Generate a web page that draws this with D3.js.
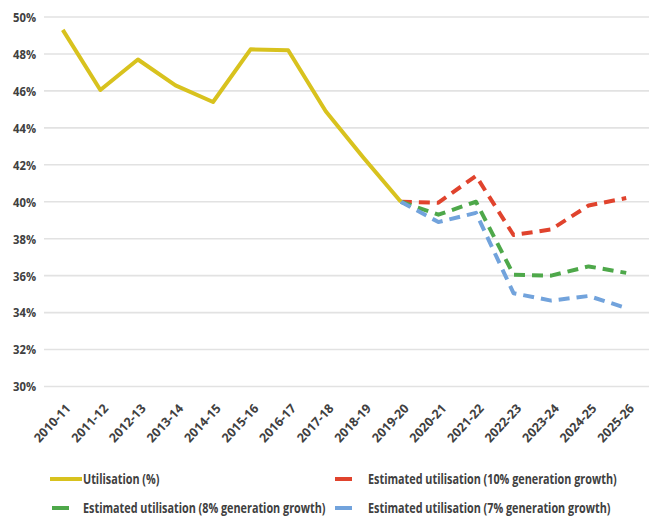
<!DOCTYPE html>
<html>
<head>
<meta charset="utf-8">
<script src="https://cdn.jsdelivr.net/npm/d3@7"></script>
<style>
  html, body { margin: 0; padding: 0; background: #fff; }
  svg text { font-family: "Open Sans", sans-serif; font-weight: bold; fill: #404040; }
</style>
</head>
<body>
<svg id="chart" width="649" height="523"></svg>
<script>
// Financial years on the x axis
const years = ["2010-11","2011-12","2012-13","2013-14","2014-15","2015-16","2016-17","2017-18",
               "2018-19","2019-20","2020-21","2021-22","2022-23","2023-24","2024-25","2025-26"];

// Actual utilisation (%), 2010-11 to 2019-20
const utilisation = [49.3, 46.05, 47.7, 46.3, 45.4, 48.25, 48.2, 44.9, 42.4, 40.0];

// Projections, 2019-20 to 2025-26
const projYears = ["2019-20","2020-21","2021-22","2022-23","2023-24","2024-25","2025-26"];
const est10 = [40.0, 39.95, 41.4, 38.2, 38.5, 39.8, 40.2];
const est8  = [40.0, 39.3, 40.0, 36.05, 36.0, 36.5, 36.15];
const est7  = [40.0, 38.9, 39.4, 35.05, 34.65, 34.9, 34.25];

const yTicks = [30, 32, 34, 36, 38, 40, 42, 44, 46, 48, 50];

const legendItems = [
  { label: "Utilisation (%)", color: "#d8c21e", dashed: false },
  { label: "Estimated utilisation (10% generation growth)", color: "#e0432d", dashed: true },
  { label: "Estimated utilisation (8% generation growth)", color: "#4ea84a", dashed: true },
  { label: "Estimated utilisation (7% generation growth)", color: "#72a3dc", dashed: true }
];

const svg = d3.select("#chart");

const x = d3.scalePoint().domain(years).range([44, 645]).padding(0.5);
const y = d3.scaleLinear().domain([30, 50]).range([386.5, 17]);

// Horizontal gridlines
svg.append("g")
  .selectAll("line")
  .data(yTicks)
  .join("line")
  .attr("x1", 44).attr("x2", 649)
  .attr("y1", d => y(d)).attr("y2", d => y(d))
  .attr("stroke", "#e2e2e2")
  .attr("stroke-width", 1.6);

// Y axis labels, right-aligned and slightly condensed
const yAxis = d3.axisLeft(y).tickValues(yTicks).tickFormat(d => d + "%").tickSize(0).tickPadding(0);
const gy = svg.append("g").attr("transform", "translate(36,0)").call(yAxis);
gy.select(".domain").remove();
gy.selectAll("text")
  .attr("font-size", 12.5)
  .attr("font-family", null)
  .attr("dy", "0.35em")
  .attr("transform", "scale(0.9,1)");

// X axis labels, rotated
const xAxis = d3.axisBottom(x).tickSize(0).tickPadding(0);
const gx = svg.append("g").attr("transform", "translate(0,400)").call(xAxis);
gx.select(".domain").remove();
gx.selectAll("text")
  .attr("font-size", 12.5)
  .attr("font-family", null)
  .attr("text-anchor", "end")
  .attr("dy", "0.35em")
  .attr("transform", "translate(5,6) rotate(-47)");

const line = d3.line().x(d => x(d[0])).y(d => y(d[1]));

const series = [
  { yrs: years.slice(0, utilisation.length), vals: utilisation, item: legendItems[0] },
  { yrs: projYears, vals: est10, item: legendItems[1] },
  { yrs: projYears, vals: est8, item: legendItems[2] },
  { yrs: projYears, vals: est7, item: legendItems[3] }
];

// Draw projections first so the actual series sits on top
[series[1], series[2], series[3], series[0]].forEach(s => {
  svg.append("path")
    .datum(d3.zip(s.yrs, s.vals))
    .attr("d", line)
    .attr("fill", "none")
    .attr("stroke", s.item.color)
    .attr("stroke-width", 4)
    .attr("stroke-linejoin", "round")
    .attr("stroke-dasharray", s.item.dashed ? "11,7" : null);
});

// Legend (labels set in a condensed width)
const legendPos = [
  { sx1: 50, sx2: 82, tx: 83, y: 479 },
  { sx1: 335, sx2: 352, tx: 368, y: 479 },
  { sx1: 52, sx2: 69, tx: 83, y: 508 },
  { sx1: 335, sx2: 352, tx: 368, y: 508 }
];
const lg = svg.append("g");
const labels = [];
legendItems.forEach((d, i) => {
  const p = legendPos[i];
  lg.append("line")
    .attr("x1", p.sx1).attr("x2", p.sx2)
    .attr("y1", p.y).attr("y2", p.y)
    .attr("stroke", d.color).attr("stroke-width", 4);
  const t = lg.append("text")
    .attr("dy", "0.35em")
    .attr("font-size", 14)
    .text(d.label);
  labels.push({ t, p });
});
// condense so the longest label spans 249px
const widest = d3.max(labels, l => l.t.node().getComputedTextLength());
const squeeze = 249 / widest;
labels.forEach(({ t, p }) => {
  t.attr("transform", `translate(${p.tx},${p.y}) scale(${squeeze},1)`);
});
</script>
</body>
</html>
